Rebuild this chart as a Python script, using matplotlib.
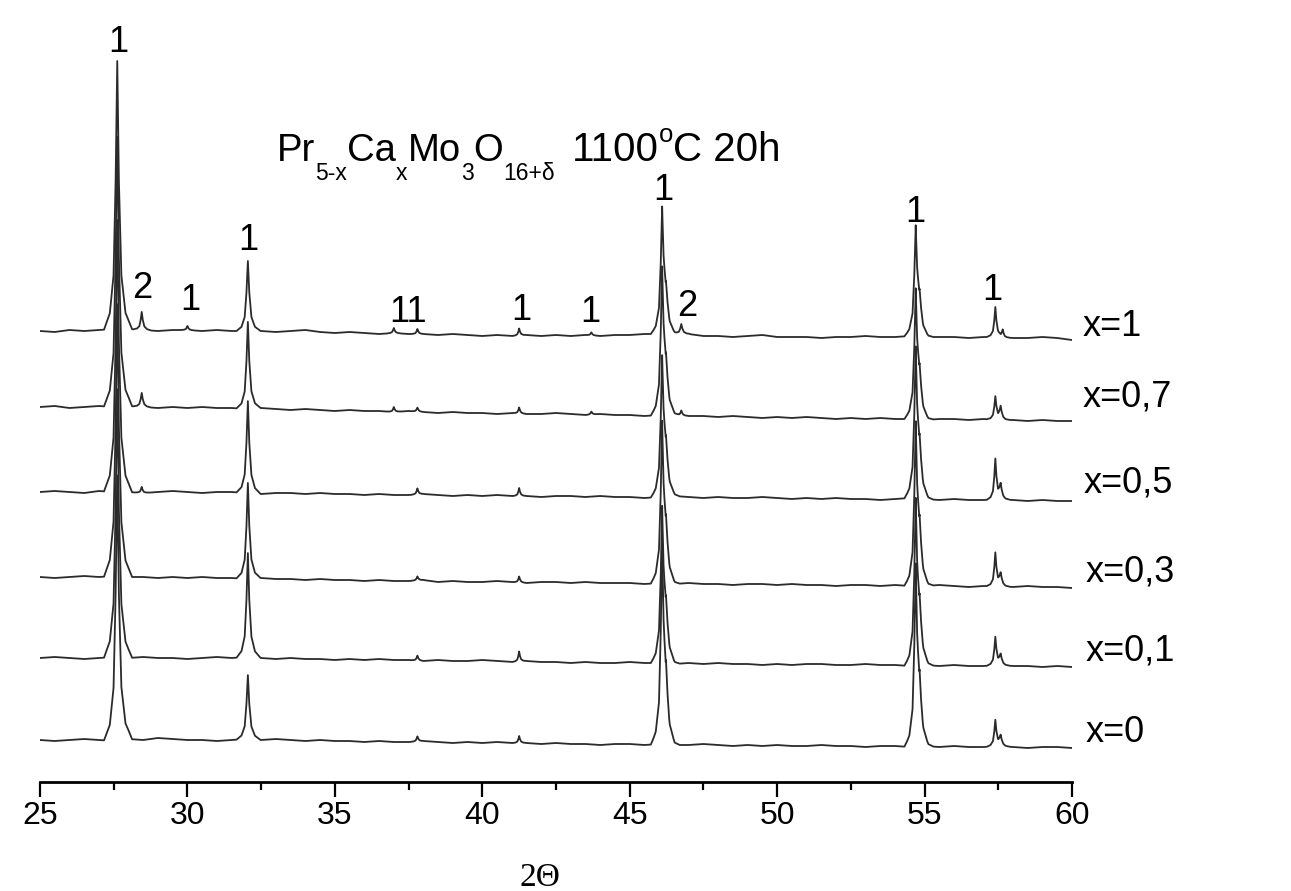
import numpy as np
import matplotlib.pyplot as plt
from matplotlib.ticker import MultipleLocator

plt.rcParams["font.family"] = ["Liberation Sans", "DejaVu Sans"]

W, H = 1291, 891

# ---------------------------------------------------------------- data
SAMPLES = ["x=1", "x=0,7", "x=0,5", "x=0,3", "x=0,1", "x=0"]
OFFSETS = [451, 375, 290, 205, 124, 42]          # stacking offset of each pattern

# background read every 0.5 deg from 25 to 60 (arb. units, relative to offset)
GRID = np.arange(25.0, 60.01, 0.5)
BASE_X1 = [0, -1, 1, 0, 1, 2, 2, 1, 0, 1,
           1, 0, 1, 0, 0, 0, -1, 0, 1, -1,
           -2, -1, -2, -3, -2, -3, -3, -4, -3, -4,
           -5, -4, -5, -4, -5, -4, -5, -4, -5, -4,
           -4, -3, -3, -3, -3, -5, -5, -6, -5, -4,
           -6, -6, -6, -7, -6, -6, -5, -6, -6, -5,
           -6, -6, -6, -7, -6, -6, -7, -7, -6, -7, -9]
BASE_X07 = [0, 1, -1, 0, 1, 0, 1, 0, -1, 0,
            -1, 0, -1, -1, -2, -1, -2, -3, -2, -3,
            -4, -3, -4, -4, -5, -4, -5, -6, -5, -6,
            -6, -7, -6, -7, -7, -6, -7, -8, -7, -8,
            -8, -9, -8, -8, -9, -9, -10, -9, -10, -11,
            -10, -11, -10, -11, -12, -11, -12, -11, -12, -12,
            -13, -12, -12, -13, -12, -13, -13, -14, -13, -14, -14]
BASE_X05 = [0, 1, 0, -1, 1, 0, 0, -1, 0, 1,
            0, -1, 0, 0, -1, -2, -1, -1, -2, -1,
            -2, -2, -3, -2, -3, -3, -2, -3, -4, -3,
            -4, -3, -4, -4, -5, -4, -4, -5, -4, -5,
            -5, -6, -5, -4, -5, -6, -5, -6, -6, -5,
            -6, -7, -6, -7, -6, -7, -7, -8, -7, -6,
            -7, -8, -7, -8, -8, -7, -8, -9, -8, -9, -9]
BASE_X03 = [0, -1, 0, 1, 0, 1, 0, 0, -1, 0,
            -1, 0, -1, -1, -2, -1, -2, -2, -3, -2,
            -3, -3, -4, -3, -4, -4, -3, -5, -4, -5,
            -5, -4, -5, -6, -5, -5, -6, -5, -6, -6,
            -6, -7, -6, -7, -6, -7, -7, -8, -7, -7,
            -8, -7, -8, -8, -9, -8, -8, -9, -8, -9,
            -9, -8, -9, -10, -9, -9, -10, -9, -10, -10, -11]
BASE_X01 = [0, 1, 0, -1, 0, 1, 0, 1, 0, 0,
            -1, 0, 1, 0, 1, 0, -1, 0, -1, -1,
            -2, -1, -2, -1, -2, -2, -3, -2, -3, -3,
            -2, -3, -4, -3, -4, -4, -5, -4, -5, -5,
            -4, -5, -5, -6, -5, -6, -5, -6, -6, -7,
            -6, -7, -6, -6, -7, -7, -6, -7, -7, -8,
            -7, -8, -7, -8, -8, -7, -8, -8, -9, -8, -9]
BASE_X0 = [0, -1, 0, 1, 0, -1, 1, 0, 2, 1,
           0, 0, -1, 0, 1, 0, 1, 0, -1, 0,
           -1, -1, -2, -1, -2, -2, -1, -2, -3, -2,
           -3, -2, -3, -3, -4, -3, -4, -4, -5, -4,
           -4, -5, -4, -5, -5, -4, -5, -6, -5, -6,
           -5, -6, -6, -5, -6, -6, -7, -6, -6, -7,
           -6, -7, -6, -7, -7, -6, -7, -8, -7, -7, -8]
BASES = [BASE_X1, BASE_X07, BASE_X05, BASE_X03, BASE_X01, BASE_X0]

# reflections: (2theta, height, width factor); the x.x+0.13 entries are the
# right-hand shoulders of the strong lines
PEAKS_X1 = [(27.62, 268, 1.4), (28.45, 18, 0.9), (30.0, 4, 0.7), (32.05, 70, 1.2),
            (37.0, 5, 0.7), (37.8, 5, 0.7), (41.25, 7, 0.7), (43.7, 3, 0.7),
            (46.1, 122, 1.2), (46.23, 30, 1.3), (46.75, 10, 0.9),
            (54.7, 106, 1.2), (54.83, 28, 1.3), (57.4, 30, 0.9), (57.65, 7, 0.7)]
PEAKS_X07 = [(27.62, 270, 1.4), (28.45, 14, 0.9), (32.05, 87, 1.2),
             (37.0, 5, 0.7), (37.8, 4, 0.7), (41.25, 6, 0.7), (43.7, 3, 0.7),
             (46.1, 142, 1.2), (46.23, 36, 1.3), (46.75, 5, 0.7),
             (54.7, 125, 1.2), (54.83, 33, 1.3), (57.4, 23, 0.9), (57.58, 13, 0.9)]
PEAKS_X05 = [(27.62, 272, 1.4), (28.45, 6, 0.7), (32.05, 92, 1.2), (37.8, 6, 0.7),
             (41.25, 8, 0.7), (46.1, 135, 1.2), (46.23, 36, 1.3),
             (54.7, 145, 1.2), (54.83, 38, 1.3), (57.4, 40, 0.9), (57.58, 14, 0.9)]
PEAKS_X03 = [(27.62, 272, 1.4), (32.05, 96, 1.2), (37.8, 4, 0.7), (41.25, 6, 0.7),
             (46.1, 155, 1.2), (46.23, 40, 1.3),
             (54.7, 157, 1.2), (54.83, 42, 1.3), (57.4, 33, 0.9), (57.58, 12, 0.9)]
PEAKS_X01 = [(27.62, 268, 1.4), (32.05, 104, 1.2), (37.8, 5, 0.7), (41.25, 10, 0.7),
             (46.1, 150, 1.2), (46.23, 40, 1.3),
             (54.7, 160, 1.2), (54.83, 42, 1.3), (57.4, 28, 0.9), (57.58, 10, 0.9)]
PEAKS_X0 = [(27.62, 265, 1.4), (32.05, 64, 1.2), (37.8, 5, 0.7), (41.25, 7, 0.7),
            (46.1, 193, 1.2), (46.23, 48, 1.3),
            (54.7, 175, 1.2), (54.83, 44, 1.3), (57.4, 26, 0.9), (57.58, 10, 0.9)]
PEAKS = [PEAKS_X1, PEAKS_X07, PEAKS_X05, PEAKS_X03, PEAKS_X01, PEAKS_X0]

# line profile of one reflection (offset in deg, fraction of height)
PROFILE_DX = [-0.32, -0.18, -0.09, -0.04, 0.0, 0.04, 0.10, 0.20, 0.36]
PROFILE_FRAC = [0, 0.06, 0.2, 0.55, 1, 0.55, 0.2, 0.06, 0]

# phase markers: text, 2theta, height
MARKS = [("1", 27.64, 739), ("2", 28.46, 494), ("1", 30.09, 482), ("1", 32.05, 542),
         ("11", 37.48, 470), ("1", 41.31, 471), ("1", 43.68, 469), ("1", 46.13, 592),
         ("2", 46.94, 476), ("1", 54.70, 569), ("1", 57.31, 492)]
SAMPLE_LABEL_X = [60.37, 60.37, 60.40, 60.47, 60.47, 60.47]
SAMPLE_LABEL_Y = [455, 385, 299, 210, 131, 50]

# title pieces: text, fontsize, vertical shift in px (down +)
FORMULA = [("Pr", 27.5, 0), ("5-x", 16.5, 19), ("Ca", 27.5, 0), ("x", 16.5, 19),
           ("Mo", 27.5, 0), ("3", 16.5, 19), ("O", 27.5, 0), ("16+δ", 16.5, 19)]
CONDITIONS = [("1100", 29, 0), ("o", 18.5, -19), ("C 20h", 29, 0)]

LINE = "#2b2b2b"


def pattern(base, peaks):
    dx = np.array(PROFILE_DX)
    xs = [GRID]
    for c, h, w in peaks:
        xs.append(c + dx * w)
    x = np.unique(np.concatenate(xs))
    y = np.interp(x, GRID, base)
    for c, h, w in peaks:
        y = y + np.interp(x, c + dx * w, h * np.array(PROFILE_FRAC), left=0, right=0)
    return x, y


def text_row(fig, x0, base, pieces):
    r = fig.canvas.get_renderer()
    x = x0
    for s, size, dy in pieces:
        t = fig.text(x / W, 1 - (base + dy) / H, s, fontsize=size, va="baseline")
        x += t.get_window_extent(r).width


fig = plt.figure(figsize=(W / 100, H / 100), dpi=100)
ax = fig.add_axes([40 / W, 109 / H, 1032 / W, 742 / H])

for off, base, peaks in zip(OFFSETS, BASES, PEAKS):
    x, y = pattern(base, peaks)
    ax.plot(x, y + off, color=LINE, lw=1.3)

for txt, tt, h in MARKS:
    ax.text(tt, h, txt, ha="center", va="center", fontsize=26)
for lab, lx, ly in zip(SAMPLES, SAMPLE_LABEL_X, SAMPLE_LABEL_Y):
    ax.text(lx, ly, lab, ha="left", va="center", fontsize=26, clip_on=False)

ax.set_xlim(25, 60); ax.set_ylim(0, 742)
for s in ["left", "top", "right"]:
    ax.spines[s].set_visible(False)
ax.spines["bottom"].set_linewidth(2.0)
ax.set_xticks(range(25, 61, 5))
ax.xaxis.set_minor_locator(MultipleLocator(2.5))
ax.tick_params(axis="x", which="major", direction="out", length=11, width=1.6,
               labelsize=23, pad=3)
ax.tick_params(axis="x", which="minor", direction="out", length=6, width=1.6)
ax.set_yticks([])

text_row(fig, 277, 161, FORMULA)
text_row(fig, 572, 161, CONDITIONS)
fig.text(540 / W, 1 - 878 / H, "2Θ", family="Liberation Serif", fontsize=24,
         ha="center", va="center")

fig.savefig("out.png", dpi=100)
